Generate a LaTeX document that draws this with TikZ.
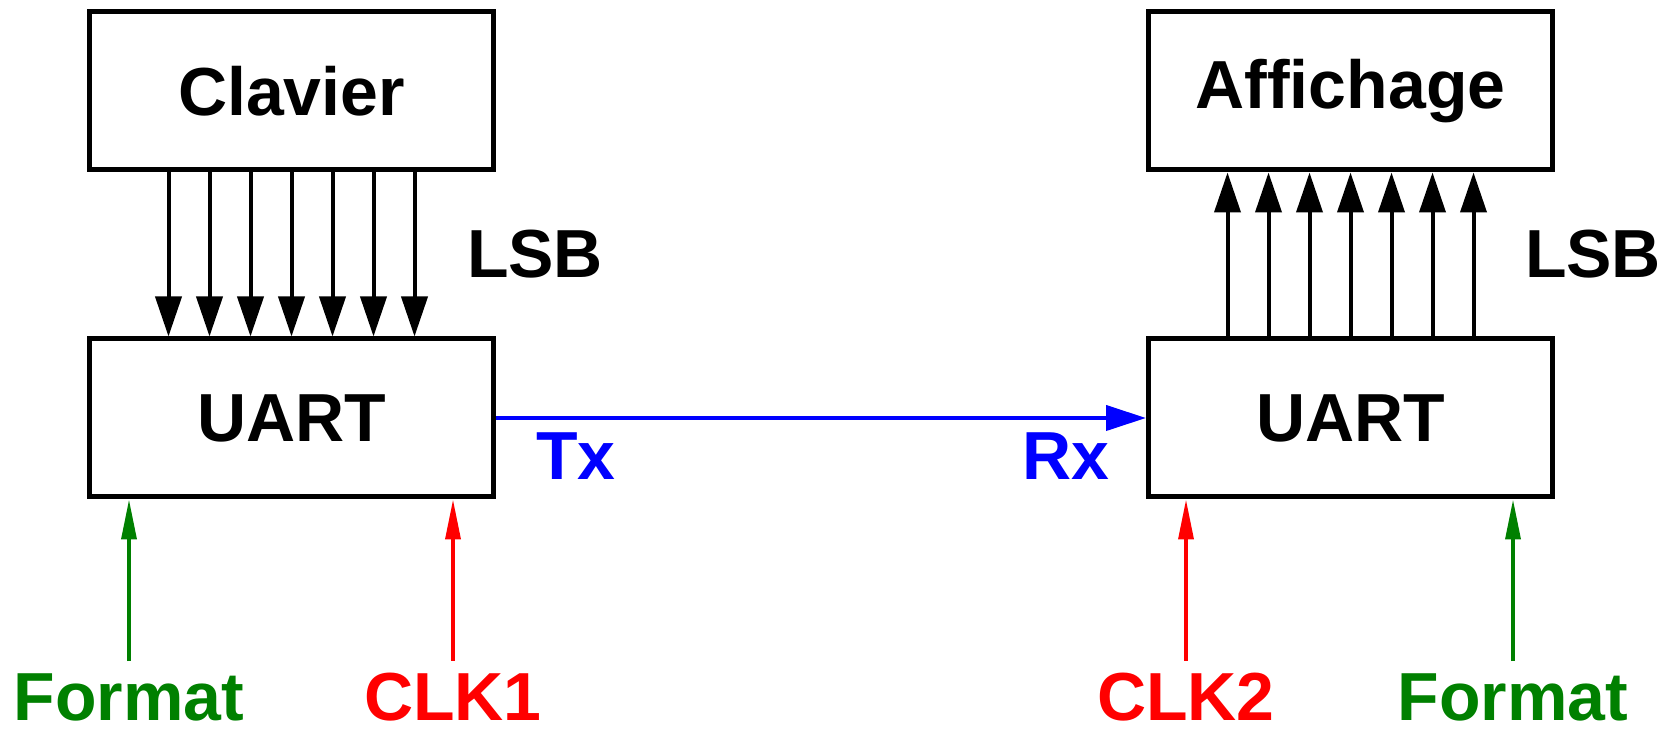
\documentclass[tikz,border=0pt]{standalone}
\usepackage{fontspec}
\setmainfont{Liberation Sans}
\usetikzlibrary{arrows.meta, positioning}
\definecolor{fmtgreen}{RGB}{0,128,0}
\definecolor{clkred}{RGB}{255,0,0}
\definecolor{linkblue}{RGB}{0,0,255}
\tikzset{
  block/.style={rectangle, draw=black, line width=5pt, minimum width=404pt,
                minimum height=158pt, font=\fontsize{68}{80}\selectfont\bfseries},
  tag/.style={inner sep=0pt, font=\fontsize{68}{80}\selectfont\bfseries},
  bus/.style={-{Triangle[length=40pt, width=26pt]}, line width=4pt},
  link/.style={-{Triangle[length=40pt, width=25pt]}, line width=4pt, color=linkblue},
  ctrl/.style={-{Triangle[length=40pt, width=15pt]}, line width=3.5pt, shorten <=12pt},
}

\begin{document}
\begin{tikzpicture}[x=1pt, y=1pt]
  \useasboundingbox (0,0) rectangle (1672,728);

  % blocks
  \node[block] (clav) at (291.5,637) {Clavier};
  \node[block] (uartA) at (291.5,310) {UART};
  \node[block] (aff) at (1350.5,637) {Affichage};
  \node[block] (uartB) at (1350.5,310) {UART};

  % parallel data
  \foreach \o in {-123,-82,-41,0,41,82,123} {
    \draw[bus] ([xshift=\o pt]clav.south) -- ([xshift=\o pt]uartA.north);
    \draw[bus] ([xshift=\o pt]uartB.north) -- ([xshift=\o pt]aff.south);
  }
  \node[tag] (lsbA) at (535,474) {LSB};
  \node[tag] (lsbB) at (1593,474) {LSB};

  % serial link
  \draw[link] (uartA.east) -- (uartB.west);
  \node[tag, text=linkblue] (tx) at (576,272) {Tx};
  \node[tag, text=linkblue] (rx) at (1066,272) {Rx};

  % format and clocks
  \node[tag, text=fmtgreen] (fmtA) at (129,31) {Format};
  \node[tag, text=clkred] (clkA) at (453,31) {CLK1};
  \node[tag, text=clkred] (clkB) at (1186,31) {CLK2};
  \node[tag, text=fmtgreen] (fmtB) at (1513,31) {Format};

  \draw[ctrl, fmtgreen] (fmtA.north) -- (fmtA.north |- uartA.south);
  \draw[ctrl, clkred] (clkA.north) -- (clkA.north |- uartA.south);
  \draw[ctrl, clkred] (clkB.north) -- (clkB.north |- uartB.south);
  \draw[ctrl, fmtgreen] (fmtB.north) -- (fmtB.north |- uartB.south);
\end{tikzpicture}
\end{document}
